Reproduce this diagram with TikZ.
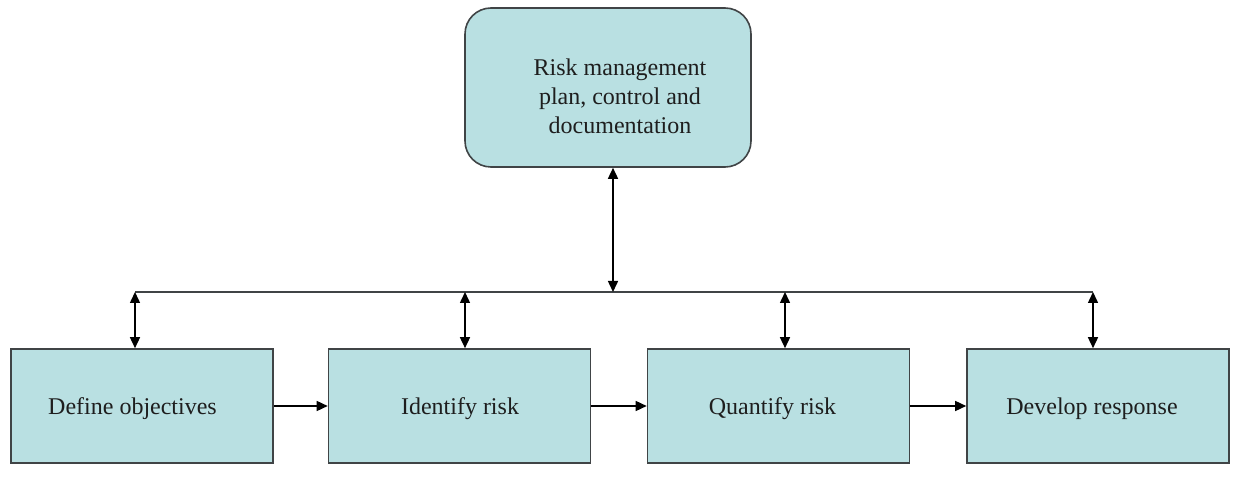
\documentclass[tikz,border=0pt]{standalone}
\usepackage{fontspec}
\setmainfont{Liberation Serif}
\usetikzlibrary{arrows.meta}
\definecolor{boxfill}{RGB}{185,224,226}
\definecolor{boxline}{RGB}{64,68,70}
\definecolor{ink}{RGB}{30,30,30}
\begin{document}
\begin{tikzpicture}[x=1pt,y=-1pt,
  stepbox/.style={draw=boxline,line width=1.6pt,fill=boxfill,minimum width=262pt,minimum height=114pt,inner sep=0pt},
  caption/.style={font=\fontsize{24}{29}\selectfont,text=ink,inner sep=0pt,align=center},
  conn/.style={draw=black,line width=1.5pt},
  tip/.style={-{Triangle[length=11pt,width=10pt]}},
  tips/.style={{Triangle[length=11pt,width=10pt]}-{Triangle[length=11pt,width=10pt]}}]
\useasboundingbox (0,0) rectangle (1248,478);
% top box
\node[stepbox,rounded corners=26pt,minimum width=286pt,minimum height=159pt] (plan) at (608,87.5) {};
\node[caption] (plantext) at (620,96) {Risk management\\plan, control and\\documentation};
% process boxes
\node[stepbox] (def) at (142,406) {};
\node[stepbox] (ide) at (459.5,406) {};
\node[stepbox] (qua) at (778.5,406) {};
\node[stepbox] (dev) at (1098,406) {};
\node[caption] (deftext) at (132.5,409) {Define objectives};
\node[caption] (idetext) at (460,409) {Identify risk};
\node[caption] (quatext) at (772.5,409) {Quantify risk};
\node[caption] (devtext) at (1092,409) {Develop response};
% bus line
\coordinate (b1) at (135,292);
\coordinate (b2) at (465,292);
\coordinate (bm) at (613,292);
\coordinate (b3) at (785,292);
\coordinate (b4) at (1093,292);
\draw[draw=boxline,line width=1.5pt] (b1) -- (b4);
\draw[conn,tips] (plan.south -| bm) -- (bm);
\draw[conn,tips] (b1) -- (def.north -| b1);
\draw[conn,tips] (b2) -- (ide.north -| b2);
\draw[conn,tips] (b3) -- (qua.north -| b3);
\draw[conn,tips] (b4) -- (dev.north -| b4);
% flow arrows
\draw[conn,tip] (def.east) -- (ide.west);
\draw[conn,tip] (ide.east) -- (qua.west);
\draw[conn,tip] (qua.east) -- (dev.west);
\end{tikzpicture}
\end{document}
